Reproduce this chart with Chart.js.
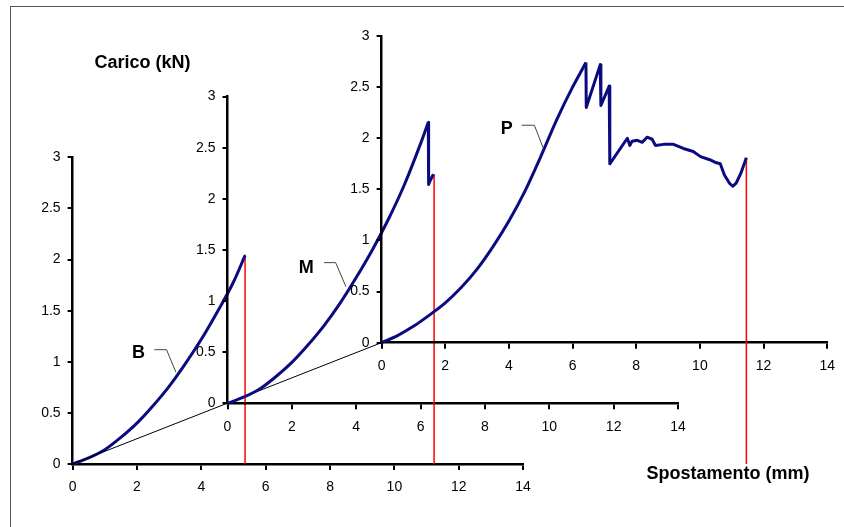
<!DOCTYPE html>
<html><head><meta charset="utf-8">
<script src="https://cdn.jsdelivr.net/npm/chart.js@4.4.1/dist/chart.umd.min.js"></script>
<style>
html,body{margin:0;padding:0;background:#fff;}
#wrap{position:relative;width:844px;height:527px;overflow:hidden;background:#fff;}
#frame{position:absolute;left:10px;top:6px;width:900px;height:600px;border-left:1px solid #555;border-top:1px solid #555;}
canvas{position:absolute;left:0;top:0;}
</style></head><body>
<div id="wrap"><div id="frame"></div>
<canvas id="cB" width="844" height="527"></canvas>
<canvas id="cM" width="844" height="527"></canvas>
<canvas id="cP" width="844" height="527"></canvas>
</div>
<script>
// ---- tick labels ----
const xTicks = [0, 2, 4, 6, 8, 10, 12, 14];
const yTicks = [0, 0.5, 1, 1.5, 2, 2.5, 3];

// ---- series B (displacement mm, load kN) ----
const bX = [0, 0.5, 1, 1.5, 2, 2.5, 3, 3.5, 4, 4.5, 5, 5.36];
const bY = [0, 0.06, 0.14, 0.26, 0.40, 0.57, 0.76, 0.98, 1.22, 1.49, 1.78, 2.04];

// ---- series M ----
const mX = [0, 0.5, 1, 1.5, 2, 2.5, 3, 3.5, 4, 4.5, 5, 5.5, 6, 6.24, 6.25, 6.30, 6.40];
const mY = [0, 0.06, 0.14, 0.26, 0.40, 0.57, 0.76, 0.98, 1.23, 1.50, 1.80, 2.14, 2.54, 2.75, 2.14, 2.18, 2.24];

// ---- series P ----
const pX = [0, 0.5, 1, 1.5, 2, 2.5, 3, 3.5, 4, 4.5, 5, 5.5, 6, 6.42, 6.43, 6.87, 6.89, 7.15, 7.17,
            7.72, 7.80, 7.87, 8.03, 8.19, 8.34, 8.50, 8.60, 8.86, 9.17, 9.48, 9.79, 10.02, 10.31,
            10.52, 10.64, 10.77, 10.93, 11.03, 11.14, 11.29, 11.46];
const pY = [0, 0.07, 0.16, 0.27, 0.39, 0.54, 0.72, 0.94, 1.19, 1.48, 1.82, 2.18, 2.50, 2.74, 2.30, 2.72, 2.32, 2.51, 1.75,
            2.0, 1.93, 1.97, 1.98, 1.96, 2.01, 1.99, 1.93, 1.94, 1.94, 1.90, 1.87, 1.82, 1.79,
            1.76, 1.75, 1.64, 1.56, 1.53, 1.56, 1.66, 1.81];

// index of the peak that ends the smooth loading branch of each series
const riseEnd = [11, 13, 13];

// ---- red drop lines at test end (in each series' own axes) ----
const dropX    = [5.36, 6.42, 11.46];
const dropTop  = [2.05, 2.24, 1.81];
const dropBase = [0, -0.594, -1.187];   // level of the front (B) axis

// ---- perspective guide line (B axes) ----
const guideX = [0, 9.6];
const guideY = [0, 1.187];

// ---- labels ----
const seriesNames = ['B', 'M', 'P'];
const labelAtX = [2.05, 2.45, 3.93];
const labelAtY = [1.086, 1.324, 2.09];
const leaderX = [[2.54, 2.92, 3.21], [3.0, 3.36, 3.68], [4.40, 4.80, 5.08]];
const leaderY = [[1.118, 1.118, 0.897], [1.376, 1.376, 1.141], [2.127, 2.127, 1.902]];

const yTitle = 'Carico (kN)';
const xTitle = 'Spostamento (mm)';

// ---- layout (pixel placement of the three staggered axis frames) ----
const W = 844, H = 527, AXW = 40, AXH = 40;
const frameLeft = [72.6, 227.5, 381.6];
const frameBottom = [464, 403.3, 342.7];
const plotW = 450.5, plotH = 306.7;
const FONT = '"Liberation Sans", Arial, sans-serif';
const NAVY = '#0b0b80';

const pts = (xs, ys) => xs.map((x, i) => ({x, y: ys[i]}));
const curves = [[bX, bY], [mX, mY], [pX, pY]];
const ids = ['cB', 'cM', 'cP'];

ids.forEach((id, k) => {
  const datasets = [];
  if (k === 0) {
    datasets.push({data: pts(guideX, guideY), borderColor: '#000', borderWidth: 1});
  }
  datasets.push({data: pts(leaderX[k], leaderY[k]), borderColor: '#444', borderWidth: 1});
  const cx = curves[k][0], cy = curves[k][1], r = riseEnd[k];
  // smooth loading branch
  datasets.push({data: pts(cx.slice(0, r + 1), cy.slice(0, r + 1)), borderColor: NAVY, borderWidth: 3,
                 cubicInterpolationMode: 'monotone', tension: 0.4});
  // post-peak branch (sharp drops)
  if (r < cx.length - 1) {
    datasets.push({data: pts(cx.slice(r), cy.slice(r)), borderColor: NAVY, borderWidth: 3, borderJoinStyle: 'round', tension: 0});
  }
  datasets.push({data: [{x: dropX[k], y: dropBase[k]}, {x: dropX[k], y: dropTop[k]}], borderColor: '#ff0000', borderWidth: 1.5, tension: 0});
  datasets.forEach(d => { d.showLine = true; d.pointRadius = 0; d.clip = false; if (d.tension === undefined) d.tension = 0; });

  const textPlugin = {
    id: 'texts' + k,
    afterDatasetsDraw(chart) {
      const ctx = chart.ctx, xs = chart.scales.x, ys = chart.scales.y;
      ctx.save();
      ctx.fillStyle = '#000';
      ctx.font = 'bold 18px ' + FONT;
      ctx.textAlign = 'center';
      ctx.textBaseline = 'middle';
      ctx.fillText(seriesNames[k], xs.getPixelForValue(labelAtX[k]), ys.getPixelForValue(labelAtY[k]));
      if (k === 0) {
        ctx.fillText(yTitle, 142.5, 63);
        ctx.fillText(xTitle, 728, 474);
      }
      ctx.restore();
    }
  };

  new Chart(document.getElementById(id), {
    type: 'scatter',
    data: {datasets},
    options: {
      responsive: false,
      animation: false,
      devicePixelRatio: 1,
      layout: {padding: {
        left: frameLeft[k] - AXW,
        right: W - frameLeft[k] - plotW,
        top: frameBottom[k] - plotH,
        bottom: H - frameBottom[k] - AXH
      }},
      plugins: {legend: {display: false}, tooltip: {enabled: false}},
      scales: {
        x: {
          type: 'linear', min: 0, max: 14,
          afterBuildTicks: s => { s.ticks = xTicks.map(v => ({value: v})); },
          afterFit: s => { s.height = AXH; },
          grid: {drawOnChartArea: false, drawTicks: true, tickLength: 6, color: '#000', lineWidth: 2},
          border: {display: true, color: '#000', width: 2.5},
          ticks: {color: '#000', font: {family: FONT, size: 14}, padding: 9, maxRotation: 0, autoSkip: false,
                  callback: v => String(v)}
        },
        y: {
          type: 'linear', min: 0, max: 3,
          afterBuildTicks: s => { s.ticks = yTicks.map(v => ({value: v})); },
          afterFit: s => { s.width = AXW; },
          grid: {drawOnChartArea: false, drawTicks: true, tickLength: 5, color: '#000', lineWidth: 2},
          border: {display: true, color: '#000', width: 2.5},
          ticks: {color: '#000', font: {family: FONT, size: 14}, padding: 7, autoSkip: false,
                  callback: v => String(v)}
        }
      }
    },
    plugins: [textPlugin]
  });
});
</script>
</body></html>
